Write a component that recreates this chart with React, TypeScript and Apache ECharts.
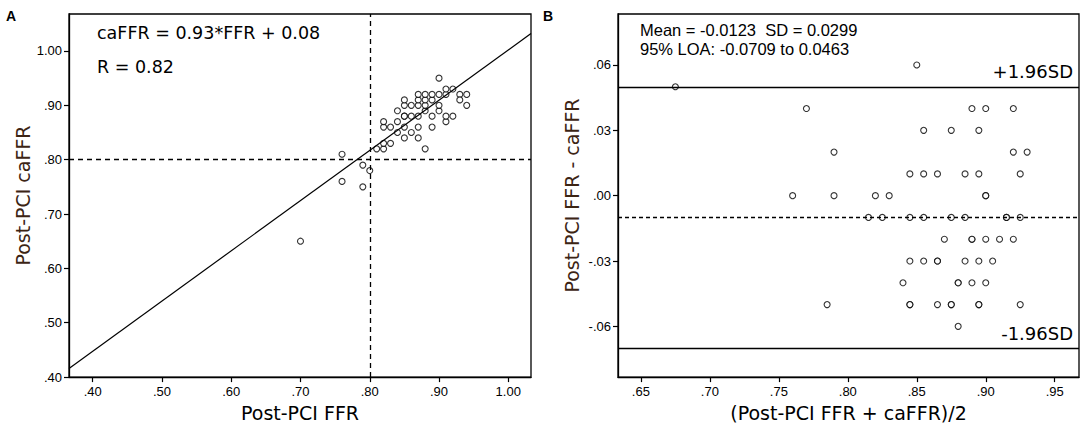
import React, { useEffect, useRef } from "react";
import * as echarts from "echarts";

// Panel A: Post-PCI FFR vs Post-PCI caFFR
const ffrA = [0.70, 0.76, 0.76, 0.79, 0.79, 0.80,
  0.81, 0.82, 0.82, 0.83, 0.82, 0.82, 0.83, 0.84, 0.84, 0.84, 0.85, 0.85, 0.85, 0.85, 0.85, 0.85,
  0.86, 0.86, 0.86, 0.87, 0.87, 0.87, 0.87, 0.87, 0.87, 0.88, 0.88, 0.88, 0.88, 0.88,
  0.89, 0.89, 0.89, 0.89, 0.90, 0.90, 0.90, 0.90, 0.91, 0.91, 0.91, 0.91, 0.92, 0.92,
  0.93, 0.93, 0.94, 0.94];
const caffrA = [0.65, 0.81, 0.76, 0.79, 0.75, 0.78,
  0.82, 0.82, 0.83, 0.83, 0.86, 0.87, 0.86, 0.85, 0.87, 0.89, 0.84, 0.86, 0.88, 0.88, 0.90, 0.91,
  0.85, 0.88, 0.90, 0.84, 0.86, 0.88, 0.90, 0.91, 0.92, 0.82, 0.89, 0.90, 0.91, 0.92,
  0.86, 0.88, 0.91, 0.92, 0.89, 0.90, 0.92, 0.95, 0.87, 0.88, 0.92, 0.93, 0.88, 0.93,
  0.92, 0.91, 0.92, 0.90];
// regression line as drawn (end points)
const fitLineX = [0.3658, 1.0328];
const fitLineY = [0.416, 1.032];
const cutoffA = 0.80;
const ticksA = [0.4, 0.5, 0.6, 0.7, 0.8, 0.9, 1.0];

// Panel B: Bland-Altman
const meanB = [0.675, 0.85, 0.77, 0.89, 0.90, 0.92, 0.855, 0.875, 0.895,
  0.79, 0.92, 0.93, 0.845, 0.855, 0.865, 0.885, 0.895, 0.925,
  0.76, 0.79, 0.82, 0.83, 0.90, 0.90,
  0.815, 0.825, 0.845, 0.855, 0.875, 0.885, 0.915, 0.915, 0.925,
  0.87, 0.89, 0.89, 0.90, 0.91, 0.92,
  0.845, 0.855, 0.865, 0.865, 0.885, 0.895, 0.905,
  0.84, 0.88, 0.88, 0.89, 0.90,
  0.785, 0.845, 0.845, 0.865, 0.875, 0.875, 0.895, 0.895, 0.925,
  0.88];
const diffB = [0.05, 0.06, 0.04, 0.04, 0.04, 0.04, 0.03, 0.03, 0.03,
  0.02, 0.02, 0.02, 0.01, 0.01, 0.01, 0.01, 0.01, 0.01,
  0.00, 0.00, 0.00, 0.00, 0.00, 0.00,
  -0.01, -0.01, -0.01, -0.01, -0.01, -0.01, -0.01, -0.01, -0.01,
  -0.02, -0.02, -0.02, -0.02, -0.02, -0.02,
  -0.03, -0.03, -0.03, -0.03, -0.03, -0.03, -0.03,
  -0.04, -0.04, -0.04, -0.04, -0.04,
  -0.05, -0.05, -0.05, -0.05, -0.05, -0.05, -0.05, -0.05, -0.05,
  -0.06];
const meanDiff = -0.0123;
const loaLow = -0.0709;
const loaHigh = 0.0463;
const ticksBx = [0.65, 0.70, 0.75, 0.80, 0.85, 0.90, 0.95];
const ticksBy = [-0.06, -0.03, 0, 0.03, 0.06];

const FONT_T = '"DejaVu Sans", sans-serif';
const FONT_L = '"Liberation Sans", Arial, sans-serif';
const TITLE_COLOR = "#3c2414";

const fmt = (v: number) => {
  const s = Math.abs(v).toFixed(2);
  const t = s.startsWith("0") ? s.slice(1) : s;
  return (v < -1e-9 ? "-" : "") + t;
};

const axisCommon = (ticks: number[], margin: number) => ({
  type: "value" as const,
  axisLine: { show: true, onZero: false, lineStyle: { color: "#000", width: 1.3 } },
  axisTick: { show: true, length: 5, customValues: ticks, lineStyle: { color: "#000", width: 1.2 } },
  axisLabel: {
    customValues: ticks,
    formatter: fmt,
    fontFamily: FONT_L,
    fontSize: 13,
    color: "#000",
    margin,
  },
  splitLine: { show: false },
});

export default function App() {
  const ref = useRef<HTMLDivElement>(null);
  useEffect(() => {
    document.body.style.margin = "0";
    const chart = echarts.init(ref.current!, null, { renderer: "svg" });
    const ptsA = ffrA.map((x, i) => [x, caffrA[i]]);
    const ptsB = meanB.map((x, i) => [x, diffB[i]]);
    const symbolStyle = { color: "#fff", borderColor: "#000", borderWidth: 1.1 };
    const titleStyle = (color: string) => ({ fontFamily: FONT_T, fontSize: 19, color });
    chart.setOption({
      animation: false,
      backgroundColor: "#fff",
      grid: [
        { left: 69, top: 14, width: 462, height: 368, show: true, borderColor: "#000", borderWidth: 1.3, backgroundColor: "transparent" },
        { left: 618, top: 14, width: 461, height: 368, show: true, borderColor: "#000", borderWidth: 1.3, backgroundColor: "transparent" },
      ],
      xAxis: [
        {
          ...axisCommon(ticksA, 8), gridIndex: 0, min: 0.3658, max: 1.0328,
          name: "Post-PCI FFR", nameLocation: "middle", nameGap: 22,
          nameTextStyle: titleStyle("#000"),
        },
        {
          ...axisCommon(ticksBx, 8), gridIndex: 1, min: 0.6334, max: 0.9676,
          name: "(Post-PCI FFR + caFFR)/2", nameLocation: "middle", nameGap: 22,
          nameTextStyle: titleStyle("#000"),
        },
      ],
      yAxis: [
        {
          ...axisCommon(ticksA, 7), gridIndex: 0, min: 0.40, max: 1.068,
          name: "Post-PCI caFFR", nameLocation: "middle", nameGap: 32,
          nameTextStyle: titleStyle(TITLE_COLOR),
        },
        {
          ...axisCommon(ticksBy, 7), gridIndex: 1, min: -0.0833, max: 0.0834,
          name: "Post-PCI FFR - caFFR", nameLocation: "middle", nameGap: 37,
          nameTextStyle: titleStyle(TITLE_COLOR),
        },
      ],
      series: [
        {
          type: "line",
          xAxisIndex: 0, yAxisIndex: 0,
          data: fitLineX.map((x, i) => [x, fitLineY[i]]),
          showSymbol: false, symbol: "none",
          lineStyle: { color: "#000", width: 1.2 },
          silent: true,
          markLine: {
            silent: true, symbol: "none",
            label: { show: false },
            lineStyle: { color: "#000", width: 1.3, type: [5, 4] },
            data: [{ xAxis: cutoffA }, { yAxis: cutoffA }],
          },
        },
        {
          type: "scatter",
          xAxisIndex: 0, yAxisIndex: 0,
          data: ptsA,
          symbol: "circle", symbolSize: 6,
          itemStyle: symbolStyle,
        },
        {
          type: "scatter",
          xAxisIndex: 1, yAxisIndex: 1,
          data: ptsB,
          symbol: "circle", symbolSize: 6,
          itemStyle: symbolStyle,
          markLine: {
            silent: true, symbol: "none",
            data: [
              { yAxis: meanDiff, lineStyle: { color: "#000", width: 1.3, type: [4, 3] }, label: { show: false } },
              {
                yAxis: loaHigh, lineStyle: { color: "#000", width: 1.4, type: "solid" },
                label: { show: true, position: "insideEndTop", formatter: "+1.96SD", fontFamily: FONT_T, fontSize: 18, color: "#000", distance: [6, 6] },
              },
              {
                yAxis: loaLow, lineStyle: { color: "#000", width: 1.4, type: "solid" },
                label: { show: true, position: "insideEndTop", formatter: "-1.96SD", fontFamily: FONT_T, fontSize: 18, color: "#000", distance: [6, 6] },
              },
            ],
          },
        },
      ],
      graphic: [
        { type: "text", left: 6, top: 9, style: { text: "A", fontFamily: FONT_L, fontWeight: "bold", fontSize: 14, fill: "#000" } },
        { type: "text", left: 543, top: 9, style: { text: "B", fontFamily: FONT_L, fontWeight: "bold", fontSize: 14, fill: "#000" } },
        { type: "text", x: 97, y: 33, style: { text: "caFFR = 0.93*FFR + 0.08", fontFamily: FONT_T, fontSize: 17.5, fill: "#000", verticalAlign: "middle" } },
        { type: "text", x: 97, y: 67, style: { text: "R = 0.82", fontFamily: FONT_T, fontSize: 17.5, fill: "#000", verticalAlign: "middle" } },
        { type: "text", x: 640, y: 30, style: { text: "Mean = -0.0123\u00a0 SD = 0.0299", fontFamily: FONT_L, fontSize: 16.5, fill: "#000", verticalAlign: "middle" } },
        { type: "text", x: 640, y: 49, style: { text: "95% LOA: -0.0709 to 0.0463", fontFamily: FONT_L, fontSize: 16.5, fill: "#000", verticalAlign: "middle" } },
      ],
    });
    return () => chart.dispose();
  }, []);
  return <div ref={ref} style={{ width: 1084, height: 427 }} />;
}
